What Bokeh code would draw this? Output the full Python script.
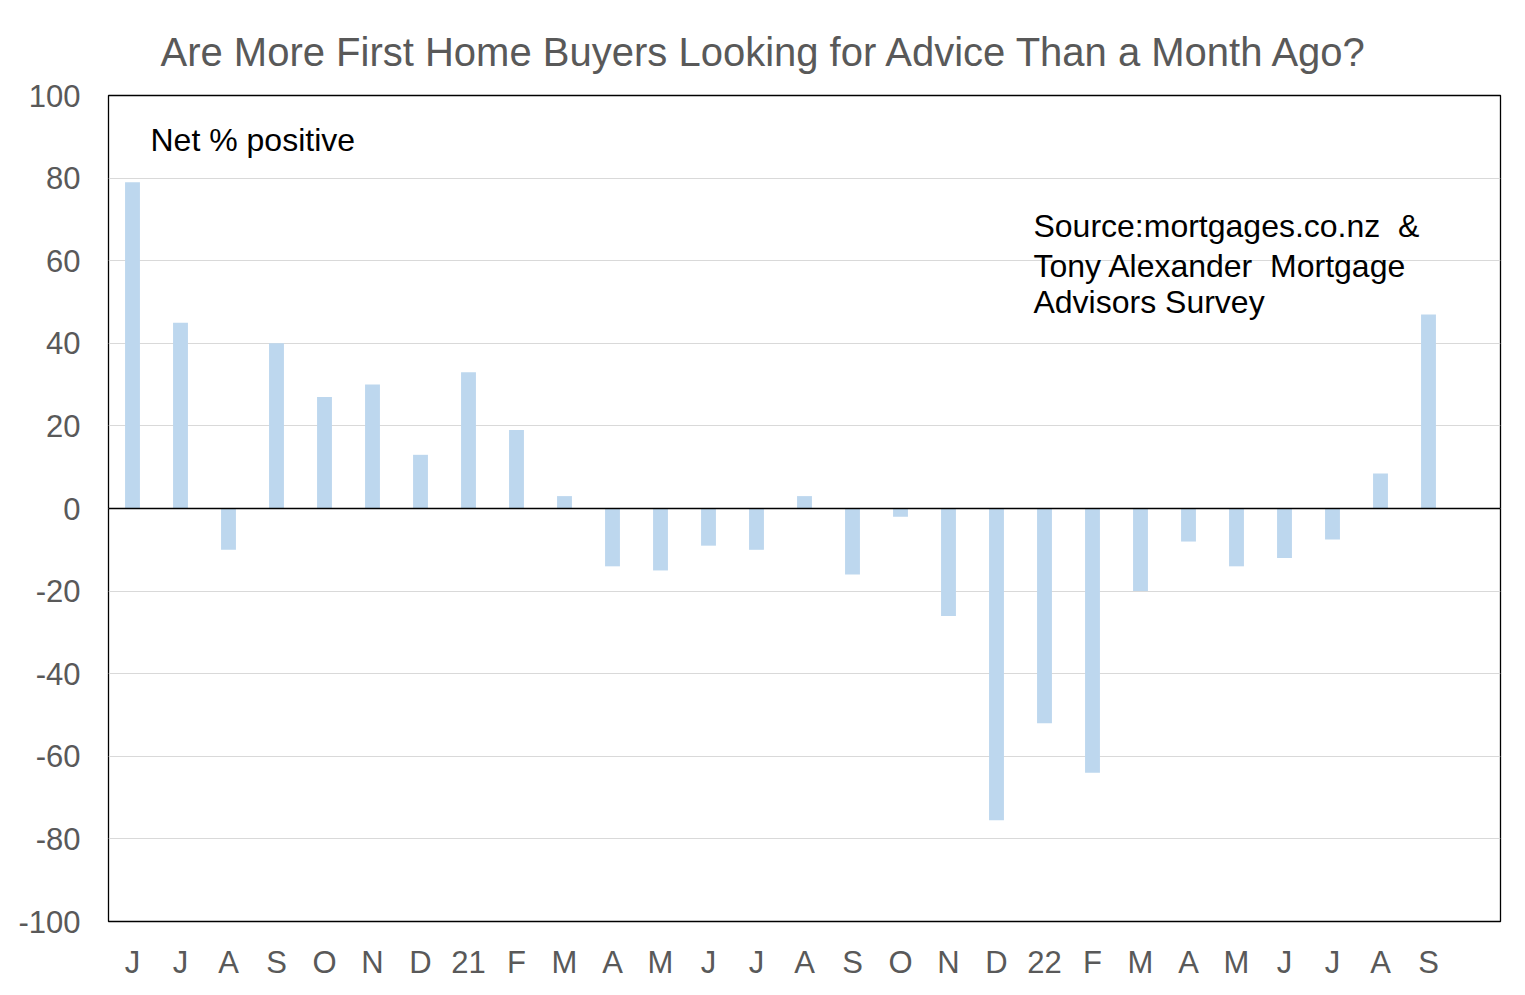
from bokeh.plotting import figure
from bokeh.models import Label, Span, FixedTicker
from bokeh.embed import file_html
from bokeh.resources import INLINE

months = ["J", "J", "A", "S", "O", "N", "D", "21", "F", "M", "A", "M", "J", "J",
          "A", "S", "O", "N", "D", "22", "F", "M", "A", "M", "J", "J", "A", "S"]
net_positive = [79, 45, -10, 40, 27, 30, 13, 33, 19, 3, -14, -15, -9, -10,
                3, -16, -2, -26, -75.5, -52, -64, -20, -8, -14, -12, -7.5, 8.5, 47]
y_ticks = [-100, -80, -60, -40, -20, 0, 20, 40, 60, 80, 100]
title_text = "Are More First Home Buyers Looking for Advice Than a Month Ago?"

xs = list(range(1, len(months) + 1))
FONT = "Liberation Sans"

p = figure(width=1518, height=991, output_backend="svg", toolbar_location=None,
           x_range=(0.5, len(months) + 1.5), y_range=(-100, 100),
           min_border_left=108, min_border_right=18, min_border_top=95, min_border_bottom=70)

p.title.text = title_text
p.title.text_font = FONT
p.title.text_font_size = "40px"
p.title.text_font_style = "normal"
p.title.text_color = "#595959"
p.title.align = "left"
p.title.offset = 52
p.title.standoff = 44

p.vbar(x=xs, top=net_positive, width=0.31, color="#BDD7EE", line_color=None)

p.add_layout(Span(location=0, dimension="width", line_color="black", line_width=1.3))

p.outline_line_color = "black"
p.outline_line_width = 1.3

p.xgrid.grid_line_color = None
p.ygrid.grid_line_color = "#D9D9D9"
p.ygrid.grid_line_width = 1.2
p.yaxis.ticker = FixedTicker(ticks=y_ticks)
p.yaxis.major_label_overrides = {t: str(t) for t in y_ticks}
p.xaxis.ticker = FixedTicker(ticks=xs)
p.xaxis.major_label_overrides = {x: m for x, m in zip(xs, months)}

for ax in (p.xaxis, p.yaxis):
    ax.axis_line_color = None
    ax.major_tick_line_color = None
    ax.minor_tick_line_color = None
    ax.major_label_text_font = FONT
    ax.major_label_text_font_size = "31px"
    ax.major_label_text_color = "#595959"
p.yaxis.major_label_standoff = 22
p.xaxis.major_label_standoff = 17

p.add_layout(Label(x=1.375, y=89.3, text="Net % positive", text_font=FONT,
                   text_font_size="32px", text_color="black", text_baseline="middle"))
for txt, yy in [("Source:mortgages.co.nz\u00a0 &", 68.3),
                ("Tony Alexander\u00a0 Mortgage", 58.8),
                ("Advisors Survey", 49.9)]:
    p.add_layout(Label(x=19.77, y=yy, text=txt, text_font=FONT,
                       text_font_size="32px", text_color="black", text_baseline="middle"))

open("out.html", "w").write(file_html(p, INLINE))
